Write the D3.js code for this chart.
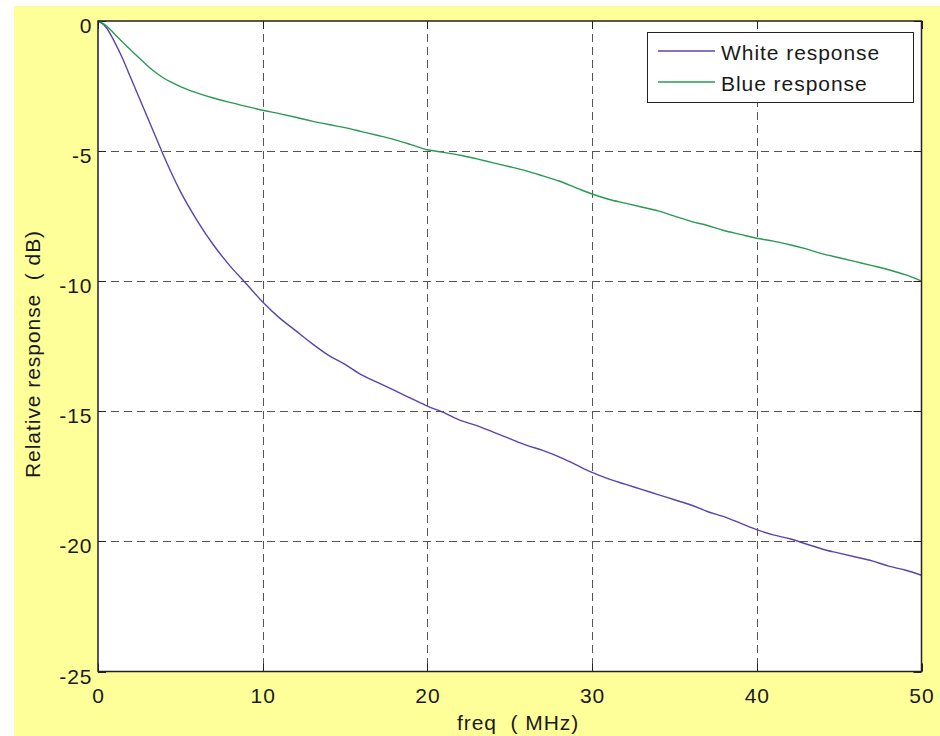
<!DOCTYPE html>
<html>
<head>
<meta charset="utf-8">
<script src="https://cdn.jsdelivr.net/npm/d3@7"></script>
<style>
  html, body { margin: 0; padding: 0; background: #ffffff; }
  svg { display: block; }
  text { font-family: "Liberation Sans", Arial, sans-serif; fill: #1a1a1a; }
</style>
</head>
<body>
<svg id="chart" width="940" height="736"></svg>
<script>
// ---- data ----
const freq = [0, 0.5, 1, 1.5, 2, 2.5, 3, 3.5, 4, 4.5, 5, 6, 7, 8, 9, 10, 11, 12, 13, 14, 15, 16, 17, 18, 19, 20,
  21, 22, 23, 24, 25, 26, 27, 28, 29, 30, 31, 32, 33, 34, 35, 36, 37, 38, 39, 40,
  41, 42, 43, 44, 45, 46, 47, 48, 49, 50];
const whiteResponse = [0, -0.25, -0.8, -1.45, -2.2, -2.95, -3.7, -4.45, -5.2, -5.9, -6.55, -7.65, -8.6, -9.4, -10.1, -10.8,
  -11.4, -11.9, -12.4, -12.85, -13.2, -13.6, -13.9, -14.2, -14.5, -14.8,
  -15.05, -15.35, -15.55, -15.8, -16.05, -16.3, -16.5, -16.75, -17.05, -17.35,
  -17.6, -17.8, -18.0, -18.2, -18.4, -18.6, -18.85, -19.05, -19.3, -19.55,
  -19.75, -19.9, -20.1, -20.3, -20.45, -20.6, -20.75, -20.95, -21.1, -21.3];
const blueResponse = [0, -0.18, -0.5, -0.82, -1.12, -1.42, -1.72, -1.98, -2.2, -2.37, -2.52, -2.76, -2.96, -3.13, -3.28, -3.43,
  -3.56, -3.7, -3.85, -3.98, -4.1, -4.25, -4.4, -4.56, -4.75, -4.95,
  -5.05, -5.16, -5.3, -5.45, -5.6, -5.76, -5.95, -6.15, -6.4, -6.65,
  -6.85, -7.0, -7.15, -7.3, -7.5, -7.7, -7.86, -8.05, -8.2, -8.35,
  -8.46, -8.6, -8.76, -8.95, -9.1, -9.25, -9.4, -9.56, -9.75, -10.0];
const xTicks = [0, 10, 20, 30, 40, 50];
const yTicks = [0, -5, -10, -15, -20, -25];
const seriesNames = ["White response", "Blue response"];
const seriesColors = ["#5c43ac", "#2a9a52"];

// ---- layout ----
const svg = d3.select("#chart");
const L = 98, R = 921.5, T = 21, B = 671.5;
const x = d3.scaleLinear().domain([0, 50]).range([L, R]);
const y = d3.scaleLinear().domain([-25, 0]).range([B, T]);
const LS = "0.95px";
const fs = 21;

// figure background
svg.append("rect").attr("x", 14).attr("y", 6).attr("width", 926).attr("height", 730).attr("fill", "#ffff99");
// axes background
svg.append("rect").attr("x", L).attr("y", T).attr("width", R - L).attr("height", B - T).attr("fill", "#ffffff");

// grid
const grid = svg.append("g").attr("stroke", "#555").attr("stroke-width", 1).attr("stroke-dasharray", "8,5").attr("fill", "none");
xTicks.slice(1, -1).forEach(t => {
  grid.append("line").attr("x1", Math.round(x(t)) + 0.5).attr("x2", Math.round(x(t)) + 0.5).attr("y1", T).attr("y2", B);
});
yTicks.slice(1, -1).forEach(t => {
  grid.append("line").attr("y1", Math.round(y(t)) + 0.5).attr("y2", Math.round(y(t)) + 0.5).attr("x1", L).attr("x2", R);
});

// inward ticks on all sides
const tk = svg.append("g").attr("stroke", "#222").attr("stroke-width", 1);
xTicks.forEach(t => {
  const px = Math.round(x(t)) + 0.5;
  tk.append("line").attr("x1", px).attr("x2", px).attr("y1", B).attr("y2", B - 8);
  tk.append("line").attr("x1", px).attr("x2", px).attr("y1", T).attr("y2", T + 8);
});
yTicks.forEach(t => {
  const py = Math.round(y(t)) + 0.5;
  tk.append("line").attr("y1", py).attr("y2", py).attr("x1", L).attr("x2", L + 8);
  tk.append("line").attr("y1", py).attr("y2", py).attr("x1", R).attr("x2", R - 8);
});

// data lines
const line = d3.line().x((d, i) => x(freq[i])).y(d => y(d)).curve(d3.curveMonotoneX);
[whiteResponse, blueResponse].forEach((s, k) => {
  svg.append("path").datum(s).attr("d", line).attr("fill", "none")
    .attr("stroke", seriesColors[k]).attr("stroke-width", 1.4).attr("stroke-linejoin", "round");
});

// axes box
svg.append("rect").attr("x", L).attr("y", T).attr("width", R - L).attr("height", B - T)
  .attr("fill", "none").attr("stroke", "#222").attr("stroke-width", 1.5);

// tick labels
xTicks.forEach(t => {
  svg.append("text").attr("x", x(t) + 0.5).attr("y", B + 31).attr("text-anchor", "middle")
    .attr("font-size", fs).style("letter-spacing", LS).text(t);
});
yTicks.forEach(t => {
  svg.append("text").attr("x", 92.5).attr("y", y(t) + 12).attr("text-anchor", "end")
    .attr("font-size", fs).style("letter-spacing", LS).text(t);
});

// axis labels
svg.append("text").attr("x", 457).attr("y", 730).attr("font-size", fs).style("letter-spacing", LS)
  .attr("xml:space", "preserve").text("freq  ( MHz)");
svg.append("text").attr("transform", "translate(40,478) rotate(-90)").attr("font-size", fs)
  .style("letter-spacing", LS).attr("xml:space", "preserve").text("Relative response  ( dB)");

// legend
const lg = svg.append("g");
lg.append("rect").attr("x", 647.5).attr("y", 32.5).attr("width", 266).attr("height", 70)
  .attr("fill", "#ffffff").attr("stroke", "#222").attr("stroke-width", 1);
const legY = [51, 82];
seriesNames.forEach((n, k) => {
  lg.append("line").attr("x1", 658).attr("x2", 715).attr("y1", legY[k]).attr("y2", legY[k])
    .attr("stroke", seriesColors[k]).attr("stroke-width", 1.4);
  lg.append("text").attr("x", 721).attr("y", legY[k] + 8.5).attr("font-size", fs)
    .style("letter-spacing", LS).text(n);
});
</script>
</body>
</html>
